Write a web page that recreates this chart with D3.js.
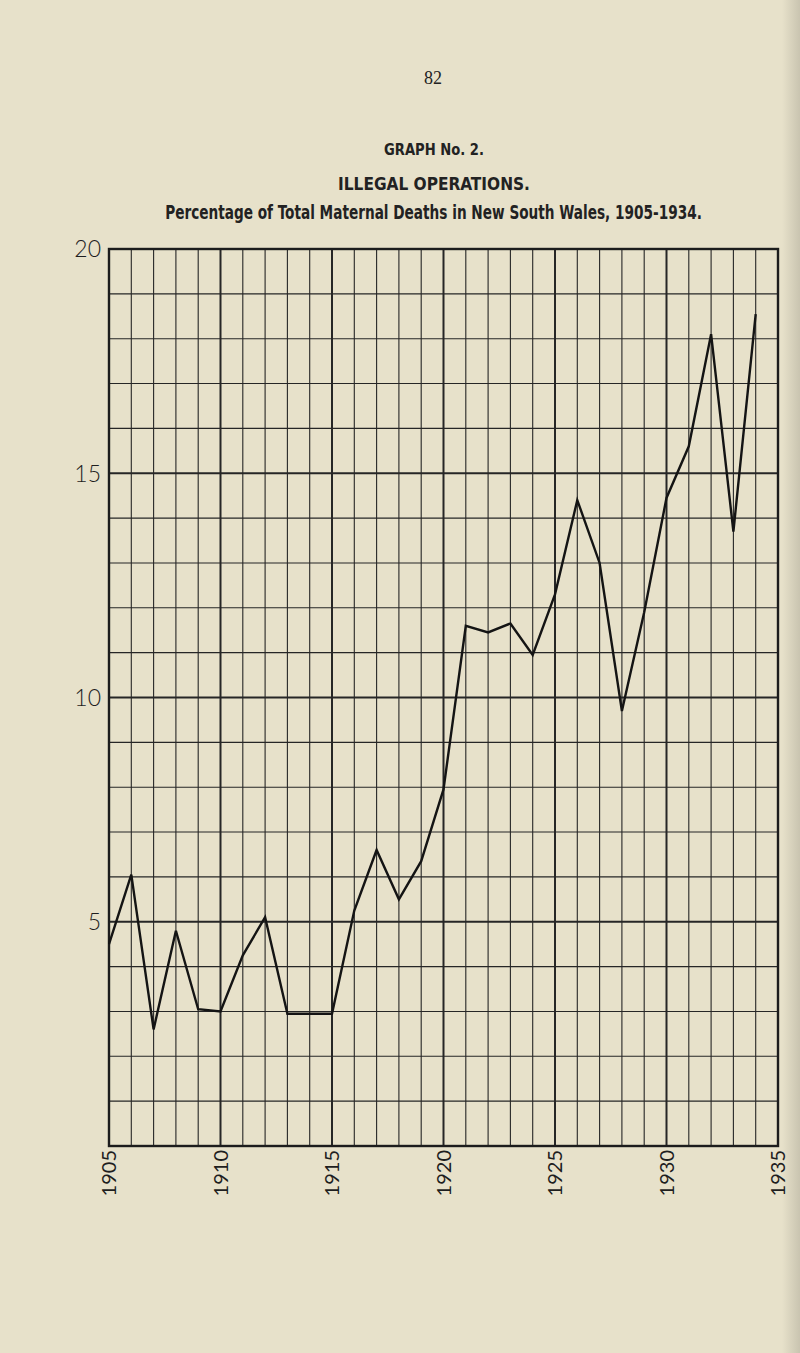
<!DOCTYPE html>
<html>
<head>
<meta charset="utf-8">
<script src="https://cdn.jsdelivr.net/npm/d3@7"></script>
<style>
  html, body { margin: 0; padding: 0; background: #e7e1ca; }
  svg { display: block; }
</style>
</head>
<body>
<svg width="800" height="1353"></svg>
<script>
// values (percent of maternal deaths, N.S.W.)
const years = [1905, 1906, 1907, 1908, 1909, 1910, 1911, 1912, 1913, 1914,
               1915, 1916, 1917, 1918, 1919, 1920, 1921, 1922, 1923, 1924,
               1925, 1926, 1927, 1928, 1929, 1930, 1931, 1932, 1933, 1934];
const percentages = [4.5, 6.05, 2.6, 4.8, 3.05, 3.0, 4.25, 5.1, 2.95, 2.95,
                     2.95, 5.25, 6.6, 5.5, 6.35, 7.95, 11.6, 11.45, 11.65, 10.95,
                     12.3, 14.4, 13.0, 9.7, 11.9, 14.45, 15.6, 18.1, 13.7, 18.55];
const yearLabels = [1905, 1910, 1915, 1920, 1925, 1930, 1935];
const percentLabels = [5, 10, 15, 20];

const svg = d3.select('svg');

// page edge shadow on the right
const defs = svg.append('defs');
const grad = defs.append('linearGradient').attr('id', 'edge').attr('x1', 0).attr('x2', 1);
grad.append('stop').attr('offset', '0%').attr('stop-color', '#e7e1ca');
grad.append('stop').attr('offset', '100%').attr('stop-color', '#c9c4b0');
svg.append('rect').attr('x', 782).attr('y', 0).attr('width', 18).attr('height', 1353)
  .attr('fill', 'url(#edge)');

// headings: condensed face, squeezed horizontally to the printed width
const condensed = '"Liberation Sans Narrow", "DejaVu Sans Condensed", sans-serif';
function heading(txt, cx, baseline, size, width) {
  const g = svg.append('g');
  const t = g.append('text')
    .attr('x', 0).attr('y', 0).attr('text-anchor', 'middle')
    .style('font-family', condensed).style('font-size', size + 'px')
    .style('font-weight', 'bold').attr('fill', '#222')
    .text(txt);
  const natural = t.node().getComputedTextLength();
  g.attr('transform', `translate(${cx},${baseline}) scale(${width / natural},1)`);
}

svg.append('text').attr('x', 433).attr('y', 84).attr('text-anchor', 'middle')
  .style('font-family', '"Liberation Serif", serif').style('font-size', '18px')
  .attr('fill', '#222').text('82');
heading('GRAPH No. 2.', 434, 155, 15, 100);
heading('ILLEGAL  OPERATIONS.', 434, 190, 18, 192);
heading('Percentage of Total Maternal Deaths in New South Wales, 1905-1934.', 433.5, 219, 19, 537);

// chart frame
const plotLeft = 109, plotRight = 778, plotTop = 249, plotBottom = 1146;
const x = d3.scaleLinear().domain([1905, 1935]).range([plotLeft, plotRight]);
const y = d3.scaleLinear().domain([0, 20]).range([plotBottom, plotTop]);

const grid = svg.append('g').attr('stroke', '#262626').attr('fill', 'none');

// vertical grid, one line per year, heavier every five years
grid.selectAll('.vline')
  .data(x.ticks(30).filter(t => t > 1905 && t < 1935))
  .enter().append('line')
  .classed('vline', true)
  .attr('x1', d => x(d)).attr('x2', d => x(d))
  .attr('y1', plotTop).attr('y2', plotBottom)
  .attr('stroke-width', d => d % 5 === 0 ? 2 : 1.1);

// horizontal grid, one line per unit, heavier every five
grid.selectAll('.hline')
  .data(y.ticks(20).filter(t => t > 0 && t < 20))
  .enter().append('line')
  .classed('hline', true)
  .attr('x1', plotLeft).attr('x2', plotRight)
  .attr('y1', d => y(d)).attr('y2', d => y(d))
  .attr('stroke-width', d => d % 5 === 0 ? 2 : 1.1);

grid.append('rect')
  .attr('x', x(1905)).attr('y', y(20))
  .attr('width', x(1935) - x(1905)).attr('height', y(0) - y(20))
  .attr('stroke', '#1c1c1c').attr('stroke-width', 2.4);

// the series line
const line = d3.line()
  .x((d, i) => x(years[i]))
  .y(d => y(d));

svg.append('path')
  .datum(percentages)
  .attr('d', line)
  .attr('fill', 'none')
  .attr('stroke', '#141414')
  .attr('stroke-width', 2.4)
  .attr('stroke-linejoin', 'miter');

// y labels
svg.selectAll('.ylab')
  .data(percentLabels)
  .enter().append('text')
  .classed('ylab', true)
  .attr('x', 101)
  .attr('y', d => y(d))
  .attr('dy', '0.36em')
  .attr('text-anchor', 'end')
  .style('font-family', 'Lato, "DejaVu Sans", sans-serif')
  .style('font-weight', 300)
  .style('font-size', '23px')
  .attr('fill', '#1e1e1e')
  .text(d => d);

// x labels, rotated to read upward
svg.selectAll('.xlab')
  .data(yearLabels)
  .enter().append('text')
  .classed('xlab', true)
  .attr('transform', d => `translate(${x(d)},${plotBottom + 4}) rotate(-90)`)
  .attr('dy', '0.36em')
  .attr('text-anchor', 'end')
  .style('font-family', 'Lato, "DejaVu Sans", sans-serif')
  .style('font-weight', 400)
  .style('font-size', '20px')
  .attr('fill', '#1e1e1e')
  .text(d => d);
</script>
</body>
</html>
